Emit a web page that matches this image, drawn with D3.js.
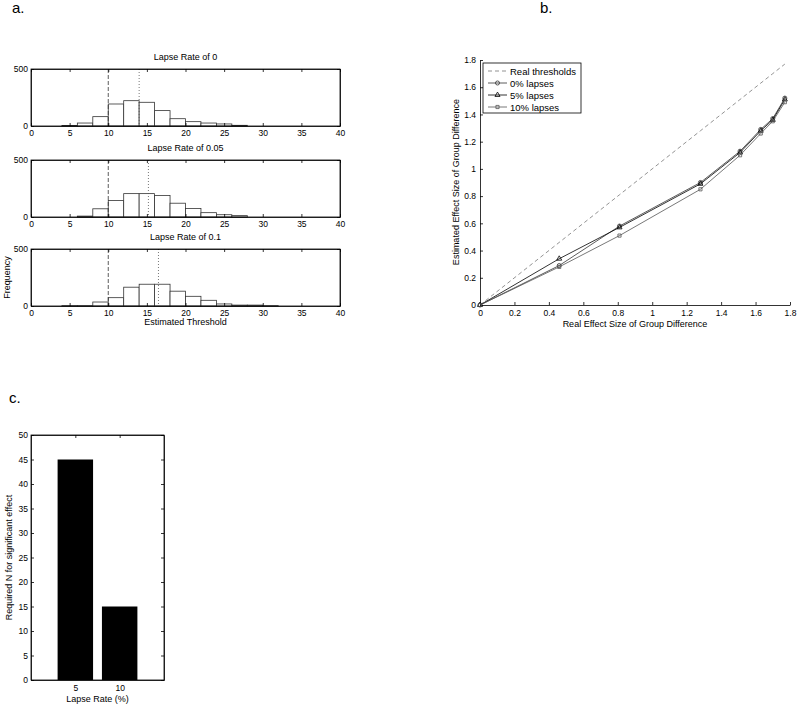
<!DOCTYPE html>
<meta charset="utf-8">
<style>
body { margin: 0; background: #fff; }
text { font-family: "Liberation Sans", Arial, sans-serif; fill: #000; }
</style>
<svg width="797" height="704"></svg>
<script src="https://cdn.jsdelivr.net/npm/d3@7"></script>
<script>

// ---- data ----
// panel a: histograms of estimated thresholds (bins of width 2)
var binStarts = [4, 6, 8, 10, 12, 14, 16, 18, 20, 22, 24, 26, 28, 30];
var countsLapse0  = [5, 26, 82, 193, 222, 208, 135, 64, 38, 26, 18, 6, 0, 0];
var countsLapse05 = [0, 8, 72, 145, 205, 205, 188, 121, 75, 38, 20, 12, 0, 0];
var countsLapse10 = [3, 3, 35, 73, 165, 191, 191, 130, 85, 50, 18, 8, 8, 3];
var histTitles = ["Lapse Rate of 0", "Lapse Rate of 0.05", "Lapse Rate of 0.1"];
var realThreshold = 10;
var meanEstimates = [14.0, 15.2, 16.5];
var histXTicks = [0, 5, 10, 15, 20, 25, 30, 35, 40];
var histYTicks = [0, 500];

// panel b: effect sizes
var realEffect = [0, 0.46, 0.81, 1.28, 1.51, 1.63, 1.70, 1.77];
var est0  = [0, 0.29, 0.58, 0.90, 1.13, 1.29, 1.37, 1.52];
var est5  = [0, 0.34, 0.57, 0.89, 1.12, 1.28, 1.36, 1.51];
var est10 = [0, 0.28, 0.51, 0.85, 1.10, 1.26, 1.35, 1.49];
var legendNames = ["Real thresholds", "0% lapses", "5% lapses", "10% lapses"];

// panel c: required N
var lapseRates = ["5", "10"];
var requiredN = [45, 15];

var svg = d3.select("svg");
svg.append("rect").attr("width", 797).attr("height", 704).attr("fill", "#fff");

var fontFam = '"Liberation Sans", Arial, sans-serif';

function styleAxis(g) {
  g.attr("font-family", fontFam).attr("font-size", "8.5px");
  g.selectAll("path").attr("stroke", "#000").attr("stroke-width", 0.8);
  g.selectAll("line").attr("stroke", "#000").attr("stroke-width", 0.8);
  g.selectAll("text").attr("fill", "#000");
}

// panel labels
svg.append("text").attr("x", 12).attr("y", 13).attr("font-size", "15px").text("a.");
svg.append("text").attr("x", 540).attr("y", 13).attr("font-size", "15px").text("b.");
svg.append("text").attr("x", 9).attr("y", 403).attr("font-size", "15px").text("c.");

// ---- panel a ----
var histLeft = 31, histRight = 340, histH = 57;
var histTops = [69, 160, 249];
var allCounts = [countsLapse0, countsLapse05, countsLapse10];

var hx = d3.scaleLinear().domain([0, 40]).range([histLeft, histRight]);

allCounts.forEach(function(counts, i) {
  var top = histTops[i], bottom = top + histH;
  var hy = d3.scaleLinear().domain([0, 500]).range([bottom, top]);
  var g = svg.append("g");

  g.append("text")
    .attr("x", (histLeft + histRight) / 2)
    .attr("y", top - 9)
    .attr("text-anchor", "middle")
    .attr("font-size", "9px")
    .text(histTitles[i]);

  g.selectAll("rect.bar")
    .data(binStarts.map(function(b, j) { return {x0: b, c: counts[j]}; }).filter(function(d) { return d.c > 0; }))
    .enter().append("rect")
      .attr("class", "bar")
      .attr("x", function(d) { return hx(d.x0); })
      .attr("width", function(d) { return hx(d.x0 + 2) - hx(d.x0); })
      .attr("y", function(d) { return hy(d.c); })
      .attr("height", function(d) { return hy(0) - hy(d.c); })
      .attr("fill", "#fff")
      .attr("stroke", "#333")
      .attr("stroke-width", 0.8);

  // real threshold (dashed) and mean estimate (dotted)
  g.append("line")
    .attr("x1", hx(realThreshold)).attr("x2", hx(realThreshold))
    .attr("y1", top).attr("y2", bottom)
    .attr("stroke", "#333").attr("stroke-width", 0.8)
    .attr("stroke-dasharray", "4,2");
  g.append("line")
    .attr("x1", hx(meanEstimates[i])).attr("x2", hx(meanEstimates[i]))
    .attr("y1", top).attr("y2", bottom)
    .attr("stroke", "#555").attr("stroke-width", 0.8)
    .attr("stroke-dasharray", "1,2");

  g.append("rect")
    .attr("x", histLeft).attr("y", top)
    .attr("width", histRight - histLeft).attr("height", histH)
    .attr("fill", "none").attr("stroke", "#000").attr("stroke-width", 0.8);

  g.append("g").attr("transform", "translate(0," + bottom + ")")
    .call(d3.axisBottom(hx).tickValues(histXTicks).tickSize(-3).tickSizeOuter(0).tickPadding(4))
    .call(styleAxis);
  g.append("g").attr("transform", "translate(0," + top + ")")
    .call(d3.axisTop(hx).tickValues(histXTicks).tickSize(-3).tickSizeOuter(0).tickFormat(""))
    .call(styleAxis);
  g.append("g").attr("transform", "translate(" + histLeft + ",0)")
    .call(d3.axisLeft(hy).tickValues(histYTicks).tickSize(-3).tickSizeOuter(0).tickPadding(3))
    .call(styleAxis);
  g.append("g").attr("transform", "translate(" + histRight + ",0)")
    .call(d3.axisRight(hy).tickValues(histYTicks).tickSize(-3).tickSizeOuter(0).tickFormat(""))
    .call(styleAxis);
});

svg.append("text")
  .attr("x", (histLeft + histRight) / 2).attr("y", 325)
  .attr("text-anchor", "middle").attr("font-size", "9px")
  .text("Estimated Threshold");
svg.append("text")
  .attr("transform", "translate(10," + (histTops[2] + histH / 2) + ") rotate(-90)")
  .attr("text-anchor", "middle").attr("font-size", "9px")
  .text("Frequency");

// ---- panel b ----
var bx = d3.scaleLinear().domain([0, 1.8]).range([480, 790]);
var by = d3.scaleLinear().domain([0, 1.8]).range([305, 60]);
var bTicks = d3.range(0, 10).map(function(i) { return +(i * 0.2).toFixed(1); });

var gb = svg.append("g");
gb.append("g").attr("transform", "translate(0,305)")
  .call(d3.axisBottom(bx).tickValues(bTicks).tickSize(-3).tickSizeOuter(0).tickPadding(5).tickFormat(d3.format("~g")))
  .call(styleAxis);
gb.append("g").attr("transform", "translate(480,0)")
  .call(d3.axisLeft(by).tickValues(bTicks).tickSize(-3).tickSizeOuter(0).tickPadding(4).tickFormat(d3.format("~g")))
  .call(styleAxis);

var line = d3.line()
  .x(function(d) { return bx(d[0]); })
  .y(function(d) { return by(d[1]); });

gb.append("path")
  .attr("d", line(realEffect.map(function(v) { return [v, v]; })))
  .attr("fill", "none").attr("stroke", "#777").attr("stroke-width", 0.8)
  .attr("stroke-dasharray", "4,3");

var series = [
  {vals: est0, color: "#333", sym: d3.symbolCircle, size: 13},
  {vals: est5, color: "#000", sym: d3.symbolTriangle, size: 11},
  {vals: est10, color: "#555", sym: d3.symbolSquare, size: 10}
];

series.forEach(function(s) {
  var pts = realEffect.map(function(v, i) { return [v, s.vals[i]]; });
  gb.append("path")
    .attr("d", line(pts))
    .attr("fill", "none").attr("stroke", s.color).attr("stroke-width", 0.8);
  gb.selectAll(null).data(pts).enter().append("path")
    .attr("d", d3.symbol().type(s.sym).size(s.size))
    .attr("transform", function(d) { return "translate(" + bx(d[0]) + "," + by(d[1]) + ")"; })
    .attr("fill", "none").attr("stroke", s.color).attr("stroke-width", 0.8);
});

gb.append("text")
  .attr("x", 635).attr("y", 327)
  .attr("text-anchor", "middle").attr("font-size", "9px")
  .text("Real Effect Size of Group Difference");
gb.append("text")
  .attr("transform", "translate(459,182) rotate(-90)")
  .attr("text-anchor", "middle").attr("font-size", "9px")
  .text("Estimated Effect Size of Group Difference");

// legend
var lg = gb.append("g").attr("transform", "translate(483,63)");
lg.append("rect").attr("width", 98).attr("height", 50)
  .attr("fill", "#fff").attr("stroke", "#000").attr("stroke-width", 0.8);
legendNames.forEach(function(name, i) {
  var yy = 8 + i * 12;
  var row = lg.append("g").attr("transform", "translate(0," + yy + ")");
  var ln = row.append("line").attr("x1", 5).attr("x2", 24).attr("y1", 0).attr("y2", 0)
    .attr("stroke-width", 0.8);
  if (i === 0) {
    ln.attr("stroke", "#777").attr("stroke-dasharray", "4,3");
  } else {
    var s = series[i - 1];
    ln.attr("stroke", s.color);
    row.append("path")
      .attr("d", d3.symbol().type(s.sym).size(s.size))
      .attr("transform", "translate(14.5,0)")
      .attr("fill", "none").attr("stroke", s.color).attr("stroke-width", 0.8);
  }
  row.append("text").attr("x", 27).attr("y", 3.5).attr("font-size", "9.5px").text(name);
});

// ---- panel c ----
var cLeft = 31, cRight = 164, cTop = 435, cBottom = 680;
var cxScale = d3.scaleLinear().domain([0, 3]).range([cLeft, cRight]);
var cy = d3.scaleLinear().domain([0, 50]).range([cBottom, cTop]);
var gc = svg.append("g");

gc.selectAll("rect.bar")
  .data(requiredN)
  .enter().append("rect")
    .attr("class", "bar")
    .attr("x", function(d, i) { return cxScale(i + 1 - 0.4); })
    .attr("width", function() { return cxScale(0.8) - cxScale(0); })
    .attr("y", function(d) { return cy(d); })
    .attr("height", function(d) { return cy(0) - cy(d); })
    .attr("fill", "#000");

gc.append("rect")
  .attr("x", cLeft).attr("y", cTop)
  .attr("width", cRight - cLeft).attr("height", cBottom - cTop)
  .attr("fill", "none").attr("stroke", "#000").attr("stroke-width", 0.8);

var cYTicks = d3.range(0, 51, 5);
gc.append("g").attr("transform", "translate(0," + cBottom + ")")
  .call(d3.axisBottom(cxScale).tickValues([1, 2]).tickSize(-3).tickSizeOuter(0).tickPadding(5)
    .tickFormat(function(d) { return lapseRates[d - 1]; }))
  .call(styleAxis);
gc.append("g").attr("transform", "translate(0," + cTop + ")")
  .call(d3.axisTop(cxScale).tickValues([1, 2]).tickSize(-3).tickSizeOuter(0).tickFormat(""))
  .call(styleAxis);
gc.append("g").attr("transform", "translate(" + cLeft + ",0)")
  .call(d3.axisLeft(cy).tickValues(cYTicks).tickSize(-3).tickSizeOuter(0).tickPadding(3))
  .call(styleAxis);
gc.append("g").attr("transform", "translate(" + cRight + ",0)")
  .call(d3.axisRight(cy).tickValues(cYTicks).tickSize(-3).tickSizeOuter(0).tickFormat(""))
  .call(styleAxis);

gc.append("text")
  .attr("x", (cLeft + cRight) / 2).attr("y", 702)
  .attr("text-anchor", "middle").attr("font-size", "9px")
  .text("Lapse Rate (%)");
gc.append("text")
  .attr("transform", "translate(12," + (cTop + cBottom) / 2 + ") rotate(-90)")
  .attr("text-anchor", "middle").attr("font-size", "9px")
  .text("Required N for significant effect");

</script>
